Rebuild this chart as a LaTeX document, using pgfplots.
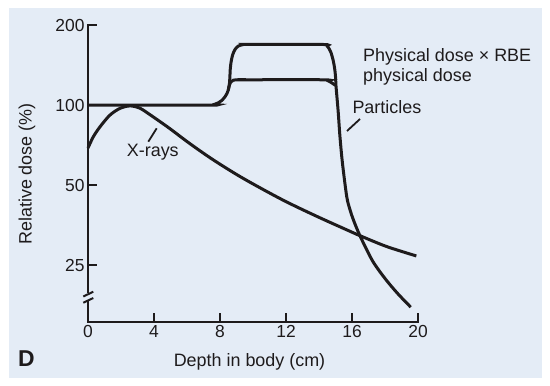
\documentclass[border=0pt]{standalone}
\usepackage{pgfplots}
\pgfplotsset{compat=1.18}
\usepackage{fontspec}
\setmainfont{Liberation Sans}
\definecolor{bgblue}{RGB}{228,236,246}
\definecolor{ink}{RGB}{30,27,28}
\begin{document}
\begin{tikzpicture}[x=1bp,y=-1bp]
\fill[white] (0,0) rectangle (550,385);
\fill[bgblue] (8.5,7.5) rectangle (541.5,378);
\begin{axis}[
  at={(88bp,-322bp)}, anchor=south west,
  scale only axis, width=330bp, height=297bp,
  xmin=0, xmax=20, ymin=15.3, ymax=200, ymode=log,
  axis x line*=bottom, axis y line*=left,
  axis line style={line width=2.2bp, color=ink, -, line cap=rect},
  xtick={0,4,8,12,16,20},
  ytick={25,50,100,200}, yticklabels={25,50,100,200},
  yminorticks=false, xminorticks=false,
  tick align=inside, major tick length=9bp,
  tick style={line width=2bp, color=ink},
  tick label style={font=\fontsize{17.5}{20}\selectfont, text=ink},
  /pgf/number format/assume math mode=true,
  clip=false,
]
% X-rays
\addplot[smooth, line width=3bp, ink] coordinates {
(0,69) (0.32,76) (0.73,82.9) (1.33,91.7) (1.94,97.2) (2.55,99.3) (3.15,97.3)
(3.76,92) (4.36,86.7) (4.97,81.5) (6.18,71.6) (7.6,62.2) (9.39,53.1)
(11.8,44.0) (13.9,38.1) (15.9,33.5) (16.48,32.3) (18.1,29.4) (19.9,27.1)};
% Particles, physical dose
\addplot[smooth, line width=3bp, ink] coordinates {
(0,100) (7.35,100) (7.6,100.4) (7.9,102) (8.1,104) (8.3,107.4) (8.42,110.5)
(8.5,113.8) (8.57,119) (8.65,122) (8.8,124) (9.1,124.5) (9.5,124.5)
(14.2,124.5) (14.5,123.8) (14.75,121.5) (14.92,119.5) (15.01,118.5)};
% Particles, physical dose x RBE
\addplot[smooth, line width=3bp, ink] coordinates {
(8.5,113.8) (8.57,120) (8.6,128) (8.62,136) (8.67,145) (8.76,154) (8.9,161.5)
(9.1,166.5) (9.4,168.8) (9.8,169) (14.2,169) (14.5,166.5) (14.7,159)
(14.85,148) (14.95,137) (15.0,128) (15.03,118) (15.1,105) (15.17,93.1)
(15.27,76.1) (15.42,60.6) (15.68,45.3) (15.88,40.4) (16.08,37.1)
(16.48,32.3) (17.24,26.0) (18.0,22.3) (18.76,19.6) (19.56,17.4)};
\end{axis}
% axis break
\fill[bgblue] (84,292.5) rectangle (93,299.5);
\draw[ink, line width=2bp] (83.3,296.5) -- (93.3,291.7);
\draw[ink, line width=2bp] (83.3,302.7) -- (93.3,298);
% leaders
\draw[ink, line width=1.8bp] (360,119) -- (347,131);
\draw[ink, line width=1.8bp] (156.7,128.3) -- (148.3,141.7);
% labels
\begin{scope}[every node/.style={inner sep=0, text=ink, font=\fontsize{18}{21}\selectfont}]
\node[anchor=base west] at (363,61.7) {Physical dose × RBE};
\node[anchor=base west] at (363,81.7) {physical dose};
\node[anchor=base west] at (352.3,113) {Particles};
\node[anchor=base west] at (126.7,156.7) {X-rays};
\node[rotate=90] at (27,174) {Relative dose (\%)};
\node[anchor=base] at (249.5,366) {Depth in body (cm)};
\node[anchor=base west, font=\fontsize{23}{26}\selectfont\bfseries] at (18,366.5) {D};
\end{scope}
\end{tikzpicture}
\end{document}
